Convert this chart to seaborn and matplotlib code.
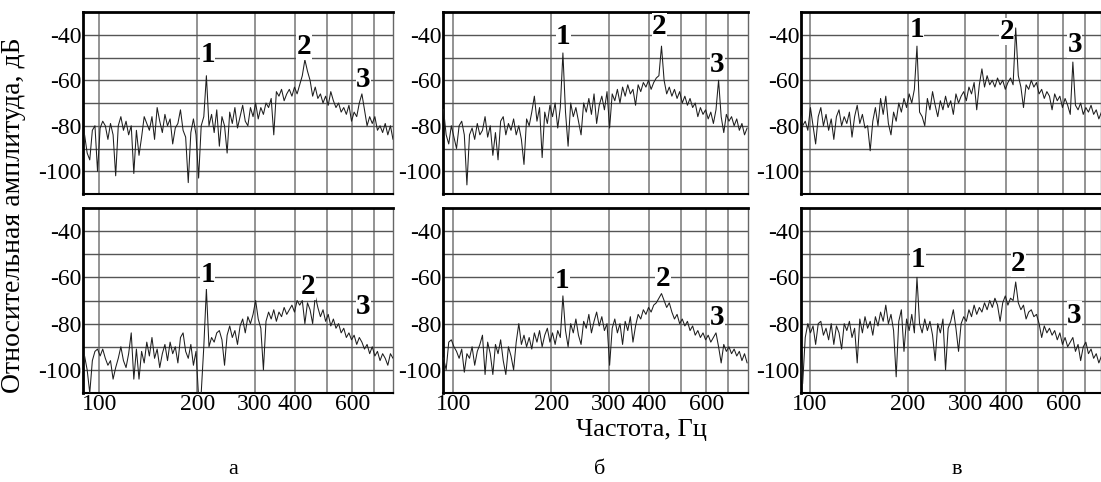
import matplotlib
matplotlib.use("Agg")
import matplotlib.pyplot as plt
import seaborn as sns
import numpy as np
from matplotlib.ticker import FixedLocator, NullLocator

# Frequency sampling of the spectra (log spaced, like the analyser output)
FREQ_MIN = 90
FREQ_MAX = 800
N_POINTS = 120
freq = np.geomspace(FREQ_MIN, FREQ_MAX, N_POINTS)

# Relative amplitude, dB
TOP_A = [
    -84, -92, -95, -82, -80, -100, -81, -78, -80, -86,
    -79, -84, -102, -80, -76, -82, -78, -84, -80, -101,
    -82, -93, -85, -76, -79, -82, -76, -86, -72, -78,
    -83, -75, -80, -77, -88, -81, -79, -73, -82, -85,
    -105, -83, -77, -84, -103, -80, -76, -58, -80, -75,
    -83, -73, -89, -76, -80, -92, -74, -79, -72, -81,
    -76, -71, -78, -80, -72, -76, -70, -77, -72, -75,
    -70, -72, -68, -84, -65, -67, -64, -69, -66, -64,
    -67, -63, -66, -62, -58, -51, -56, -60, -67, -63,
    -68, -66, -70, -67, -71, -65, -69, -72, -70, -74,
    -72, -75, -71, -78, -74, -76, -70, -66, -73, -80,
    -76, -79, -76, -82, -80, -83, -79, -84, -80, -86,
]
TOP_B = [
    -74, -72, -73, -84, -88, -80, -85, -90, -80, -78,
    -84, -106, -84, -81, -86, -79, -84, -82, -76, -85,
    -80, -93, -83, -95, -78, -76, -84, -79, -82, -77,
    -84, -80, -86, -97, -77, -80, -74, -67, -78, -72,
    -94, -74, -79, -71, -76, -70, -81, -72, -48, -74,
    -89, -70, -76, -72, -78, -84, -70, -74, -68, -75,
    -66, -79, -71, -67, -73, -65, -81, -66, -69, -64,
    -70, -63, -67, -62, -66, -64, -71, -62, -65, -61,
    -63, -60, -64, -61, -59, -58, -45, -60, -66, -63,
    -67, -64, -68, -65, -70, -67, -71, -68, -72, -70,
    -76, -72, -75, -73, -77, -74, -79, -73, -60, -76,
    -83, -75, -78, -76, -80, -77, -82, -79, -84, -81,
]
TOP_C = [
    -76, -74, -74, -80, -78, -82, -72, -80, -88, -76,
    -72, -80, -75, -82, -77, -86, -76, -73, -80, -76,
    -79, -74, -85, -76, -71, -79, -75, -81, -80, -91,
    -78, -72, -80, -68, -75, -67, -79, -84, -74, -78,
    -70, -74, -68, -72, -66, -70, -64, -45, -74, -76,
    -80, -68, -73, -65, -71, -76, -69, -73, -67, -72,
    -69, -75, -66, -70, -67, -65, -69, -63, -66, -61,
    -73, -62, -55, -63, -58, -62, -60, -63, -59, -62,
    -60, -64, -61, -59, -62, -37, -58, -63, -72, -62,
    -64, -60, -63, -61, -66, -64, -68, -65, -67, -73,
    -66, -69, -67, -72, -68, -71, -75, -52, -71, -73,
    -70, -75, -72, -74, -71, -75, -73, -77, -74, -76,
]
BOT_A = [
    -94, -100, -110, -96, -92, -91, -94, -91, -95, -98,
    -96, -104, -99, -95, -90, -96, -99, -93, -84, -104,
    -91, -104, -92, -97, -88, -94, -86, -95, -91, -99,
    -93, -89, -96, -88, -93, -90, -97, -86, -84, -92,
    -95, -89, -98, -92, -112, -110, -90, -65, -90, -86,
    -88, -84, -83, -87, -98, -85, -81, -86, -83, -89,
    -81, -78, -84, -77, -80, -76, -70, -78, -82, -100,
    -79, -75, -78, -74, -79, -75, -77, -73, -76, -74,
    -72, -75, -70, -72, -70, -80, -71, -74, -80, -68,
    -73, -77, -74, -79, -76, -81, -78, -82, -80, -84,
    -82, -86, -84, -87, -85, -89, -86, -88, -91, -89,
    -93, -90, -94, -92, -96, -93, -95, -98, -93, -95,
]
BOT_B = [
    -96, -94, -95, -100, -88, -87, -90, -92, -95, -91,
    -101, -93, -95, -90, -98, -92, -89, -85, -102, -88,
    -93, -102, -89, -93, -87, -96, -102, -90, -94, -100,
    -88, -80, -89, -85, -90, -86, -91, -84, -88, -83,
    -90, -85, -82, -88, -84, -89, -83, -86, -68, -83,
    -90, -80, -84, -78, -85, -89, -79, -82, -76, -84,
    -79, -75, -81, -77, -83, -80, -98, -82, -78, -84,
    -80, -89, -79, -83, -77, -88, -81, -76, -78, -74,
    -76, -73, -75, -72, -71, -69, -67, -70, -73, -71,
    -75, -78, -76, -80, -78, -81, -79, -83, -81, -85,
    -83, -86, -84, -87, -85, -88, -86, -84, -90, -97,
    -89, -92, -90, -93, -91, -94, -92, -96, -93, -97,
]
BOT_C = [
    -90, -95, -92, -106, -86, -80, -84, -81, -89, -80,
    -79, -85, -82, -87, -80, -89, -81, -84, -91, -80,
    -83, -79, -86, -82, -97, -78, -84, -77, -82, -79,
    -85, -77, -81, -75, -79, -72, -80, -76, -83, -103,
    -79, -74, -92, -78, -83, -76, -84, -60, -80, -84,
    -78, -83, -79, -85, -96, -80, -84, -78, -100, -82,
    -79, -74, -82, -92, -80, -77, -79, -74, -77, -72,
    -76, -73, -75, -71, -74, -70, -73, -69, -72, -79,
    -71, -68, -72, -69, -70, -62, -71, -74, -72, -78,
    -75, -74, -77, -76, -80, -86, -81, -84, -82, -85,
    -83, -87, -84, -89, -86, -90, -88, -86, -92, -89,
    -96, -90, -88, -93, -91, -95, -93, -97, -94, -96,
]

# Peak marker labels: (freq, dB) for "1", "2", "3"
PEAK_TAGS = ["1", "2", "3"]
TAGS_TOP_A = [(215, -48.7), (426, -45.1), (648, -59.7)]
TAGS_TOP_B = [(218, -40.7), (430, -36.4), (648, -53.0)]
TAGS_TOP_C = [(213, -37.9), (402, -38.6), (651, -44.3)]
TAGS_BOT_A = [(215, -58.9), (439, -64.0), (648, -72.7)]
TAGS_BOT_B = [(216, -61.4), (441, -60.7), (648, -77.4)]
TAGS_BOT_C = [(215, -52.4), (436, -53.8), (648, -76.3)]

X_GRID = [100, 200, 300, 400, 500, 600, 700]
X_LABELS = ["100", "200", "300", "400", "", "600", ""]
Y_GRID = [-100, -90, -80, -70, -60, -50, -40]
Y_LABELS = ["-100", "", "-80", "", "-60", "", "-40"]
PANEL_LETTERS = ["а", "б", "в"]

sns.set_theme(style="white")
plt.rcParams['font.family'] = ['Liberation Serif', 'DejaVu Serif']
plt.rcParams['text.color'] = 'black'
plt.rcParams['xtick.color'] = 'black'
plt.rcParams['ytick.color'] = 'black'

W, H = 1101, 482
fig = plt.figure(figsize=(W / 100, H / 100), dpi=100)


def px_axes(x0, x1, y0, y1):
    """Axes from pixel box (top-left origin)."""
    return fig.add_axes([x0 / W, 1 - y1 / H, (x1 - x0) / W, (y1 - y0) / H])


cols = [(83, 393), (443, 748), (801, 1101)]
rows = [(12, 194), (208, 393)]
xlims = [(89, 800), (93, 805), (94, 783)]

series = [[TOP_A, TOP_B, TOP_C], [BOT_A, BOT_B, BOT_C]]
tags = [[TAGS_TOP_A, TAGS_TOP_B, TAGS_TOP_C], [TAGS_BOT_A, TAGS_BOT_B, TAGS_BOT_C]]

for r, (y0, y1) in enumerate(rows):
    for c, (x0, x1) in enumerate(cols):
        ax = px_axes(x0, x1, y0, y1)
        ax.set_facecolor('white')
        ax.set_xscale('log')
        ax.set_xlim(*xlims[c])
        ax.set_ylim(-110, -30)

        sns.lineplot(x=freq, y=series[r][c], ax=ax, color='#1e1e1e',
                     linewidth=0.75, estimator=None, sort=False, zorder=3)

        ax.xaxis.set_major_locator(FixedLocator(X_GRID))
        ax.xaxis.set_minor_locator(NullLocator())
        ax.set_xticklabels(X_LABELS if r == 1 else [""] * len(X_GRID))
        ax.set_yticks(Y_GRID)
        ax.set_yticklabels(Y_LABELS)
        ax.tick_params(length=0, labelsize=17, pad=1, colors='black')
        ax.set_xlabel("")
        ax.set_ylabel("")

        ax.grid(True, axis='x', color='#8a8a8a', linewidth=1.3, zorder=1)
        ax.grid(True, axis='y', color='#555555', linewidth=1.0, zorder=1)
        ax.set_axisbelow(True)

        for side in ['left', 'top']:
            ax.spines[side].set_linewidth(2.0)
            ax.spines[side].set_color('black')
        ax.spines['bottom'].set_linewidth(1.5)
        ax.spines['bottom'].set_color('black')
        ax.spines['right'].set_linewidth(1.0)
        ax.spines['right'].set_color('#666666')

        for tag, (fx, fy) in zip(PEAK_TAGS, tags[r][c]):
            ax.text(fx, fy, tag, fontsize=21, fontweight='bold', ha='center',
                    va='center', zorder=5,
                    bbox=dict(facecolor='white', edgecolor='none', pad=0.2))

fig.text(14 / W, 1 - 215 / H, "Относительная амплитуда, дБ", rotation=90,
         ha='center', va='center', fontsize=20)
fig.text(641 / W, 1 - 430 / H, "Частота, Гц", ha='center', va='center',
         fontsize=19)
for letter, lx in zip(PANEL_LETTERS, [233, 600, 957]):
    fig.text(lx / W, 1 - 470 / H, letter, ha='center', va='center', fontsize=16)

fig.savefig("out.png", dpi=100)
